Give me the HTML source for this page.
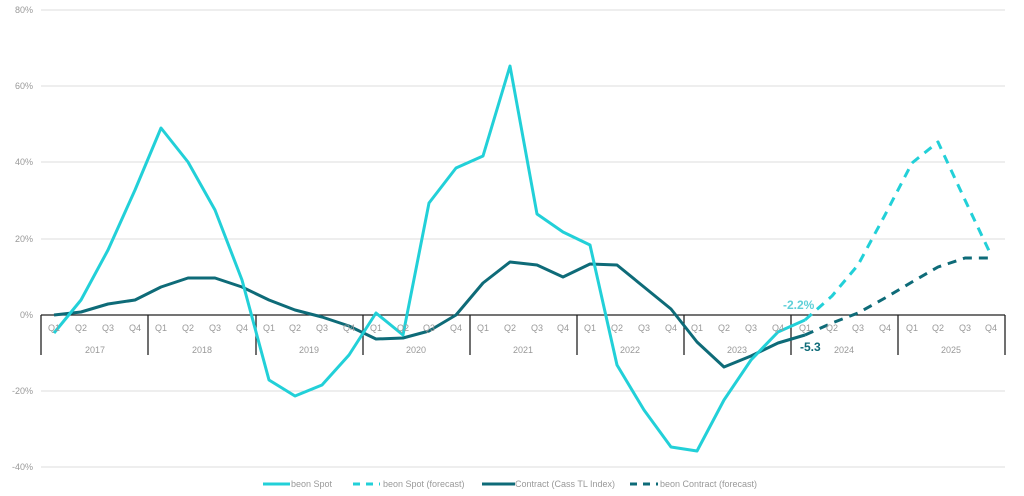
<!DOCTYPE html><html><head><style>body{margin:0;background:#fff}svg{display:block}text{font-family:"Liberation Sans",sans-serif}</style></head><body>
<svg width="1024" height="496" viewBox="0 0 1024 496">
<g stroke="#dcdcdc" stroke-width="1">
<line x1="41" y1="10" x2="1005" y2="10"/><line x1="41" y1="86" x2="1005" y2="86"/><line x1="41" y1="162" x2="1005" y2="162"/><line x1="41" y1="239" x2="1005" y2="239"/><line x1="41" y1="391" x2="1005" y2="391"/><line x1="41" y1="467" x2="1005" y2="467"/></g>
<g font-size="9" fill="#999" text-anchor="end">
<text x="33" y="13">80%</text><text x="33" y="89">60%</text><text x="33" y="165">40%</text><text x="33" y="242">20%</text><text x="33" y="318">0%</text><text x="33" y="394">-20%</text><text x="33" y="470">-40%</text></g>
<line x1="41" y1="315" x2="1005" y2="315" stroke="#222" stroke-width="1.3"/>
<g stroke="#222" stroke-width="1.3">
<line x1="41" y1="315" x2="41" y2="355"/><line x1="148" y1="315" x2="148" y2="355"/><line x1="256" y1="315" x2="256" y2="355"/><line x1="363" y1="315" x2="363" y2="355"/><line x1="470" y1="315" x2="470" y2="355"/><line x1="577" y1="315" x2="577" y2="355"/><line x1="684" y1="315" x2="684" y2="355"/><line x1="791" y1="315" x2="791" y2="355"/><line x1="898" y1="315" x2="898" y2="355"/><line x1="1005" y1="315" x2="1005" y2="355"/></g>
<g font-size="9" fill="#999" text-anchor="middle" id="q"></g>
<g font-size="9" fill="#999" text-anchor="middle">
<text x="95" y="353">2017</text><text x="202" y="353">2018</text><text x="309" y="353">2019</text><text x="416" y="353">2020</text><text x="523" y="353">2021</text><text x="630" y="353">2022</text><text x="737" y="353">2023</text><text x="844" y="353">2024</text><text x="951" y="353">2025</text></g>
<g fill="none" stroke-width="3" stroke-linejoin="round">
<polyline stroke="#0e6b78" points="54,315 81,312 108,304 135,300 161,287 188,278 215,278 242,287 269,300 295,310 322,317 349,326 376,339 403,338 429,331 456,315 483,283 510,262 537,265 563,277 590,264 617,265 644,287 671,309 697,342 724,367 751,356 778,343 805,335"/>
<polyline stroke="#0e6b78" stroke-dasharray="9,7" points="805,335 832,323 858,313 885,298 912,282 938,267 965,258 991,258"/>
<polyline stroke="#22d0d8" points="54,333 81,300 108,250 135,190 161,128 188,162 215,210 242,280 269,380 295,396 322,385 349,355 376,313 403,335 429,203 456,168 483,156 510,66 537,214 563,232 590,245 617,365 644,410 671,447 697,451 724,400 751,360 778,332 805,320"/>
<polyline stroke="#22d0d8" stroke-dasharray="9,7" points="805,320 832,296 858,265 885,215 912,163 938,142 965,200 991,255"/>
</g>
<text x="783" y="309" font-size="12" font-weight="bold" fill="#5fd0d8">-2.2%</text>
<text x="800" y="351" font-size="12" font-weight="bold" fill="#0e6b78">-5.3</text>
<g font-size="9" fill="#999">
<line x1="263" y1="484" x2="290" y2="484" stroke="#22d0d8" stroke-width="3"/><text x="291" y="487">beon Spot</text>
<line x1="353" y1="484" x2="380" y2="484" stroke="#22d0d8" stroke-width="3" stroke-dasharray="7,6"/><text x="383" y="487">beon Spot (forecast)</text>
<line x1="482" y1="484" x2="515" y2="484" stroke="#0e6b78" stroke-width="3"/><text x="515" y="487">Contract (Cass TL Index)</text>
<line x1="630" y1="484" x2="658" y2="484" stroke="#0e6b78" stroke-width="3" stroke-dasharray="7,6"/><text x="660" y="487">beon Contract (forecast)</text>
</g>
<g font-size="9" fill="#999" text-anchor="middle">
<text x="54" y="331">Q1</text><text x="81" y="331">Q2</text><text x="108" y="331">Q3</text><text x="135" y="331">Q4</text>
<text x="161" y="331">Q1</text><text x="188" y="331">Q2</text><text x="215" y="331">Q3</text><text x="242" y="331">Q4</text>
<text x="269" y="331">Q1</text><text x="295" y="331">Q2</text><text x="322" y="331">Q3</text><text x="349" y="331">Q4</text>
<text x="376" y="331">Q1</text><text x="403" y="331">Q2</text><text x="429" y="331">Q3</text><text x="456" y="331">Q4</text>
<text x="483" y="331">Q1</text><text x="510" y="331">Q2</text><text x="537" y="331">Q3</text><text x="563" y="331">Q4</text>
<text x="590" y="331">Q1</text><text x="617" y="331">Q2</text><text x="644" y="331">Q3</text><text x="671" y="331">Q4</text>
<text x="697" y="331">Q1</text><text x="724" y="331">Q2</text><text x="751" y="331">Q3</text><text x="778" y="331">Q4</text>
<text x="805" y="331">Q1</text><text x="832" y="331">Q2</text><text x="858" y="331">Q3</text><text x="885" y="331">Q4</text>
<text x="912" y="331">Q1</text><text x="938" y="331">Q2</text><text x="965" y="331">Q3</text><text x="991" y="331">Q4</text>
</g>
</svg>
</body></html>
